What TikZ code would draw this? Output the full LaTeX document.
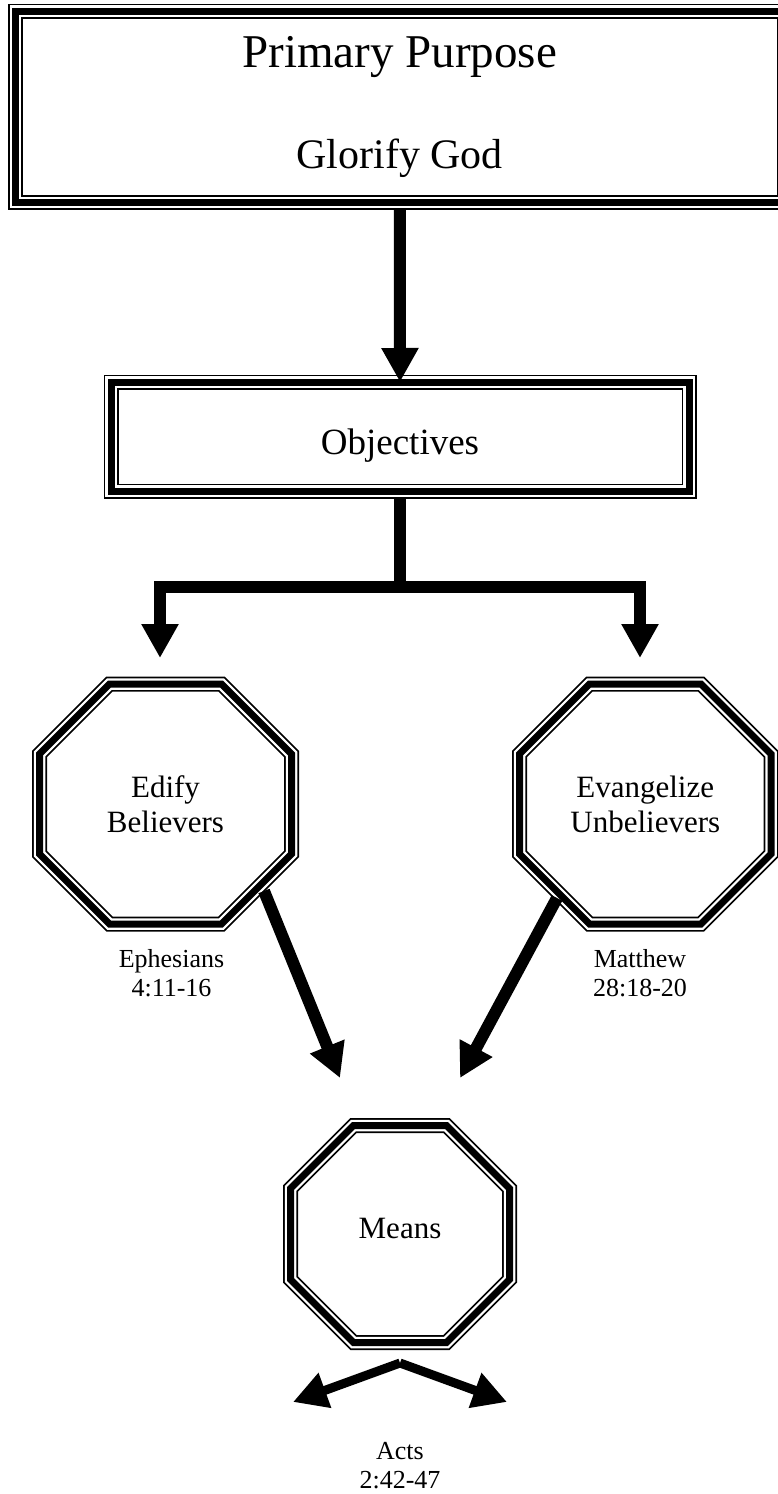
\documentclass[tikz,border=0pt]{standalone}
\usepackage{fontspec}
\setmainfont{Liberation Serif}
\usetikzlibrary{arrows.meta,calc}

\tikzset{
	tripleline/.style={draw,line width=15pt,postaction={draw,white,line width=11.5pt},postaction={draw,black,line width=7pt}},
	bigbox/.style={tripleline,fill=white,rectangle,align=center,inner sep=0pt,outer sep=0pt},
	octnode/.style={rectangle,align=center,inner sep=0pt,outer sep=0pt,font=\fontsize{31}{35}\selectfont},
	reflabel/.style={align=center,font=\fontsize{26}{29}\selectfont},
	bigarrow/.style={line width=12pt,-{Triangle[width=35pt,length=34pt]}},
	smallarrow/.style={line width=9pt,-{Triangle[width=35pt,length=34pt]}}
}

\newcommand{\octframe}[2]{%
	\draw[tripleline] ($(#1.north west)+(#2,0)$) -- ($(#1.north east)+(-#2,0)$) -- ($(#1.north east)+(0,#2)$) -- ($(#1.south east)+(0,-#2)$) -- ($(#1.south east)+(-#2,0)$) -- ($(#1.south west)+(#2,0)$) -- ($(#1.south west)+(0,-#2)$) -- ($(#1.north west)+(0,#2)$) -- cycle;}

\begin{document}
\begin{tikzpicture}[x=1pt,y=-1pt]
	\useasboundingbox (0,0) rectangle (778,1494);
	
	\node[bigbox,minimum width=768.5pt,minimum height=191.5pt,font=\fontsize{47}{56}\selectfont] (purpose) at (399.75,106.75) {Primary Purpose\\[45pt]{\fontsize{42}{50}\selectfont Glorify God}};
	\node[bigbox,minimum width=578pt,minimum height=109pt,font=\fontsize{37}{44}\selectfont,text height=35pt,text depth=0pt] (objectives) at (400,436.5) {Objectives};
	
	\node[octnode,minimum width=252pt,minimum height=240pt] (edify) at (165.5,804) {Edify\\Believers};
	\node[octnode,minimum width=251.5pt,minimum height=240pt] (evangelize) at (645.25,804) {Evangelize\\Unbelievers};
	\node[octnode,minimum width=219pt,minimum height=217pt,text depth=12pt] (means) at (400,1234) {Means};
	\octframe{edify}{70}
	\octframe{evangelize}{70}
	\octframe{means}{63}
	
	\node[reflabel] (ephesians) at (171.5,973) {Ephesians\\4:11-16};
	\node[reflabel] (matthew) at (640,973) {Matthew\\28:18-20};
	\node[reflabel] (acts) at (400,1466) {Acts\\2:42-47};
	
	\coordinate (split) at (400,587);
	\coordinate (edifytip) at (160,658);
	\coordinate (evangtip) at (640,658);
	\coordinate (edifyout) at (264,891);
	\coordinate (evangout) at (557,898);
	\coordinate (meansleft) at (340,1078);
	\coordinate (meansright) at (460,1078);
	\coordinate (meanssplit) at ($(means.south)+(0,20.5)$);
	\coordinate (actsleft) at (293,1402);
	\coordinate (actsright) at (507,1402);
	
	\draw[bigarrow] ($(purpose.south)+(0,7)$) -- (objectives.north);
	\draw[line width=12pt] ($(objectives.south)+(0,7)$) -- (split);
	\draw[bigarrow] (split) -| (edifytip);
	\draw[bigarrow] (split) -| (evangtip);
	\draw[bigarrow] (edifyout) -- (meansleft);
	\draw[bigarrow] (evangout) -- (meansright);
	\draw[smallarrow] (meanssplit) -- (actsleft);
	\draw[smallarrow] (meanssplit) -- (actsright);
\end{tikzpicture}
\end{document}
